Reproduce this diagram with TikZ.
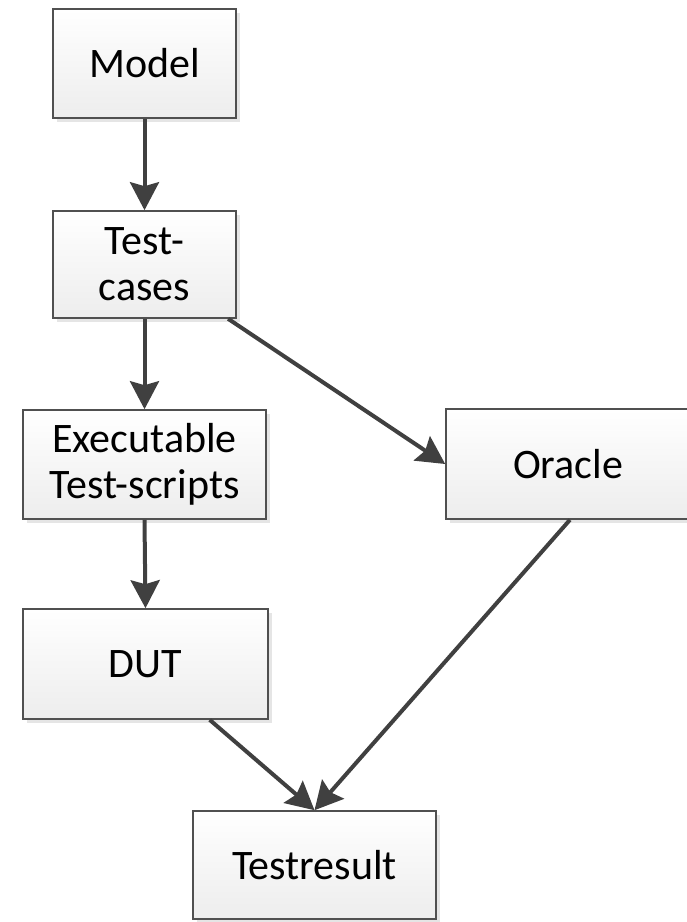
\documentclass[tikz,border=0pt]{standalone}
\usepackage{fontspec}
\setmainfont{Carlito}
\usetikzlibrary{arrows.meta,shadows}
\definecolor{edgecol}{HTML}{404040}
\definecolor{framecol}{HTML}{505050}
\definecolor{fillbot}{HTML}{EDEDED}
\begin{document}
\begin{tikzpicture}[x=1pt,y=-1pt,
  box/.style={rectangle, draw=framecol, line width=1.6pt,
    top color=white, bottom color=fillbot,
    general shadow={fill=black!10, shadow xshift=4pt, shadow yshift=-4pt},
    inner sep=0pt, align=center, font=\fontsize{42}{46}\selectfont},
  flow/.style={draw=edgecol, line width=4pt,
    -{Stealth[length=28pt, width=29pt, inset=4pt]}}]
  \useasboundingbox (0,0) rectangle (687,922);
  \clip (0,0) rectangle (687,922);

  % process boxes
  \node[box, minimum width=183pt, minimum height=109pt] (model) at (144.5,63.5) {Model};
  \node[box, minimum width=183pt, minimum height=107pt] (cases) at (144.5,264.5) {Test-\\cases};
  \node[box, minimum width=243pt, minimum height=109pt] (scripts) at (144.5,464.5) {Executable\\Test-scripts};
  \node[box, minimum width=245pt, minimum height=110pt] (dut) at (145.5,664) {DUT};
  \node[box, minimum width=244pt, minimum height=110pt] (oracle) at (568,464) {Oracle};
  \node[box, minimum width=243pt, minimum height=108pt] (result) at (314.5,865) {Testresult};

  % connectors
  \draw[flow] (model.south) -- (cases.north);
  \draw[flow] (cases.south) -- (scripts.north);
  \draw[flow] (scripts.south) -- (dut.north);
  \draw[flow] (cases.-33) -- (oracle.west);
  \draw[flow] (dut.-41) -- (result.north);
  \draw[flow] (oracle.-88) -- (result.north);
\end{tikzpicture}
\end{document}
